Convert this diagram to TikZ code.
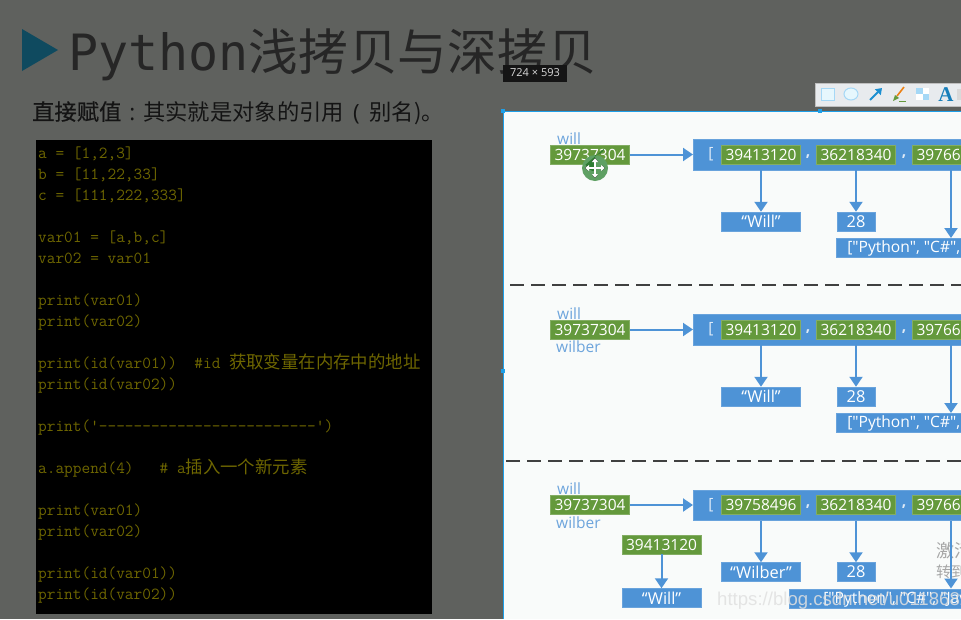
\documentclass[tikz,border=0pt]{standalone}
\usepackage{fontspec}
\usepackage{xcolor}
\usepackage{tikz}
\usetikzlibrary{arrows.meta, calc}
\setmainfont{Open Sans}
\newfontfamily\plainfont{Open Sans}
\newfontfamily\cjk{Noto Sans CJK SC}
\newfontfamily\cjkbold[FakeBold=0.5]{Noto Sans CJK SC}
\newfontfamily\titlefont{DejaVu Sans Mono}
\newfontfamily\markfont{Liberation Sans}
\newfontfamily\iconfont{Liberation Serif}
\newcommand{\zh}[1]{{\cjk\fontsize{17.4}{17.4}\selectfont #1}}
\definecolor{slidebg}{HTML}{5F615E}
\definecolor{panelbg}{HTML}{F9FBFA}
\definecolor{boxblue}{HTML}{4E93D6}
\definecolor{boxgreen}{HTML}{64993C}
\definecolor{labelblue}{HTML}{6EA5DC}
\definecolor{codetext}{HTML}{6E6600}
\definecolor{handleblue}{HTML}{1E9FE8}
\definecolor{marker}{HTML}{0F4A5F}
\definecolor{toolbg}{HTML}{E8EBEE}
\tikzset{
  greenbox/.style={fill=boxgreen, draw=boxgreen!80!white, line width=0.5pt, text=white, minimum width=79pt, minimum height=19pt, inner sep=0pt, font=\fontsize{15.5}{15.5}\selectfont},
  bluebox/.style={fill=boxblue, draw=boxblue!85!white, line width=0.5pt, text=white, minimum height=19pt, inner sep=0pt, font=\fontsize{16.4}{16.4}\selectfont},
  namelabel/.style={anchor=base west, text=labelblue, inner sep=0pt, font=\fontsize{15.5}{15.5}\selectfont},
  pale/.style={text=white!80!boxblue, inner sep=0pt, font=\fontsize{15.5}{15.5}\selectfont},
  codeline/.style={anchor=base west, text=codetext, inner sep=0pt, font=\ttfamily\fontsize{16.85}{16.85}\selectfont},
  link/.style={draw=boxblue, line width=2pt, -{Triangle[length=10pt,width=13pt]}},
  handle/.style={fill=handleblue, minimum size=4.5pt, inner sep=0pt},
  cursorline/.style={{Triangle[length=3.5pt,width=6pt]}-{Triangle[length=3.5pt,width=6pt]}}
}
\begin{document}
\begin{tikzpicture}[x=1pt, y=-1pt]
  \useasboundingbox (0,0) rectangle (961,619);
  \clip (0,0) rectangle (961,619);
  \fill[slidebg] (0,0) rectangle (961,619);

  % Title
  \fill[marker] (22,29) -- (58,50) -- (22,71) -- cycle;
  \node (title) [anchor=base west, inner sep=0pt, text=black!85] at (68,70.5)
    {{\titlefont\fontsize{50}{50}\selectfont Python}{\cjk\fontsize{49.7}{49.7}\selectfont 浅拷贝与深拷贝}};
  \node (subtitle) [anchor=base west, inner sep=0pt, text=black!92] at (32,120)
    {\fontsize{22.3}{22.3}\selectfont{\cjkbold 直接赋值}\hspace{8pt}:\hspace{8pt}{\cjk 其实就是对象的引用}\hspace{9pt}(\hspace{10pt}{\cjk 别名)。}};

  % Code
  \fill[black] (35.5,139.5) rectangle (432,614);
  \foreach \i/\val in {0/{a = [1,2,3]}, 1/{b = [11,22,33]}, 2/{c = [111,222,333]},
      4/{var01 = [a,b,c]}, 5/{var02 = var01},
      7/{print(var01)}, 8/{print(var02)},
      10/{print(id(var01))\ \ \#id \zh{获取变量在内存中的地址}}, 11/{print(id(var02))},
      13/{print('-{}-{}-{}-{}-{}-{}-{}-{}-{}-{}-{}-{}-{}-{}-{}-{}-{}-{}-{}-{}-{}-{}-{}-{}-')},
      15/{a.append(4)\ \ \ \# a\zh{插入一个新元素}},
      17/{print(var01)}, 18/{print(var02)},
      20/{print(id(var01))}, 21/{print(id(var02))}} {
    \node (code\i) [codeline] at (38,158+\i*21) {\val};
  }

  % Panel
  \fill[panelbg] (503,111) rectangle (961,619);
  \draw[handleblue, line width=1pt] (503,619) -- (503,111) -- (961,111);
  \node (handle1) [handle] at (503,111) {};
  \node (handle2) [handle] at (820,111) {};
  \node (handle3) [handle] at (503,371) {};

  \draw[black!75, line width=2pt, dash pattern=on 14pt off 7pt] (510,285) -- (961,285);
  \draw[black!75, line width=2pt, dash pattern=on 14pt off 7pt] (506,460.5) -- (961,460.5);

  % Activation mark
  \node (mark1) [anchor=base west, inner sep=0pt, text=black!35] at (936,557) {\cjk\fontsize{18}{18}\selectfont 激活};
  \node (mark2) [anchor=base west, inner sep=0pt, text=black!35] at (936,577) {\cjk\fontsize{15}{15}\selectfont 转到};

  % Rows
  \foreach \r/\dy/\first/\name/\px/\pad in {1/0/39413120/“Will”/836/11, 2/175/39413120/“Will”/836/11, 3/350.5/39758496/“Wilber”/789/34} {
    \node (will\r) [namelabel] at (557,144+\dy) {will};
    \node (addr\r) [greenbox] at (590,154.5+\dy) {39737304};
    \node (list\r) [bluebox, anchor=west, minimum width=420pt, minimum height=30.5pt] at (693,154.75+\dy) {};
    \node (open\r) [pale] at (711,154.5+\dy) {[};
    \node (itema\r) [greenbox] at (761,154.5+\dy) {\first};
    \node (comma\r) [pale, font=\bfseries\fontsize{15.5}{15.5}\selectfont] at (808,156.5+\dy) {,};
    \node (itemb\r) [greenbox] at (856,154.5+\dy) {36218340};
    \node (commb\r) [pale, font=\bfseries\fontsize{15.5}{15.5}\selectfont] at (904,156.5+\dy) {,};
    \node (itemc\r) [greenbox] at (952,154.5+\dy) {\makebox[71pt][l]{39766}};
    \node (value\r) [bluebox, minimum width=79pt] at (761,221.5+\dy) {\name};
    \node (age\r) [bluebox, minimum width=38pt] at (856,221.5+\dy) {28};
    \node (langs\r) [bluebox, anchor=west, inner xsep=\pad pt, inner ysep=0pt, text height=12.5pt, text depth=3pt, font=\fontsize{15.6}{15.6}\selectfont] at (\px,247.75+\dy) {\plainfont ["Python", "C\#", "Java"]\hspace{30pt}};

    \draw[link] (addr\r) -- (list\r.west |- addr\r);
    \draw[link] (value\r.north |- list\r.south) -- (value\r.north);
    \draw[link] (age\r.north |- list\r.south) -- (age\r.north);
    \draw[link] (951,0 |- list\r.south) -- (951,0 |- langs\r.north);
  }

  \foreach \r/\dy in {2/175, 3/350.5} {
    \node (wilber\r) [namelabel] at (556,177.5+\dy) {wilber};
  }

  % Old element
  \node (olditem) [greenbox] at (661.5,544.5) {39413120};
  \node (oldvalue) [bluebox, minimum width=79pt] at (661.5,598) {“Will”};
  \draw[link] (olditem) -- (oldvalue);

  % Blog mark
  \node (blogmark) [anchor=base west, inner sep=0pt, text=black!12, opacity=0.85] at (717,605.5)
    {\markfont\fontsize{18.6}{18.6}\selectfont https://blog.csdn.net/u011868279};

  % Size tag
  \node (sizetag) [fill=black!78!slidebg, text=white!85!black, minimum width=64pt, minimum height=17pt, inner sep=0pt] at (535,73)
    {\fontsize{11}{11}\selectfont 724 × 593};

  % Toolbar
  \fill[black!25] (814.5,82.5) rectangle (961,106.5);
  \fill[toolbg] (815.5,83.5) rectangle (961,105.5);
  \draw[handleblue!40!white, fill=white!90!cyan, line width=1pt] (821,88) rectangle (834,100);
  \draw[handleblue!40!white, fill=white!90!cyan, line width=1pt] (851,94) ellipse (7 and 6);
  \draw[handleblue!90!black, line width=1.8pt, -{Triangle[length=6pt,width=8pt]}] (870,100) -- (882,88);
  \draw[orange!70!brown, line width=1.6pt] (904,87) -- (897,96);
  \fill[boxgreen] (893,101) -- (895,95) -- (899,98) -- cycle;
  \draw[boxgreen, line width=1pt] (899,101) -- (906,101);
  \fill[handleblue!40!white] (916,88) rectangle (929,100);
  \fill[white] (922.5,88) rectangle (929,94);
  \fill[white] (916,94) rectangle (922.5,100);
  \node (toolA) [text=handleblue!80!black, inner sep=0pt] at (946,94.5) {\iconfont\bfseries\fontsize{21}{21}\selectfont A};
  \fill[black!15] (957,89) rectangle (961,100);

  % Cursor
  \definecolor{cursorgreen}{HTML}{5FA063}
  \definecolor{cursordark}{HTML}{2E7D32}
  \fill[cursorgreen] (595,168) circle (13);
  \fill[cursordark] (595,155) arc (90:20:10) -- (585.6,164.6) arc (160:90:10) -- cycle;
  \draw[black!70, line width=2.6pt, cursorline] (585,168) -- (605,168);
  \draw[black!70, line width=2.6pt, cursorline] (595,158) -- (595,178);
  \draw[white, line width=1.6pt, cursorline] (585.5,168) -- (604.5,168);
  \draw[white, line width=1.6pt, cursorline] (595,158.5) -- (595,177.5);
\end{tikzpicture}
\end{document}
